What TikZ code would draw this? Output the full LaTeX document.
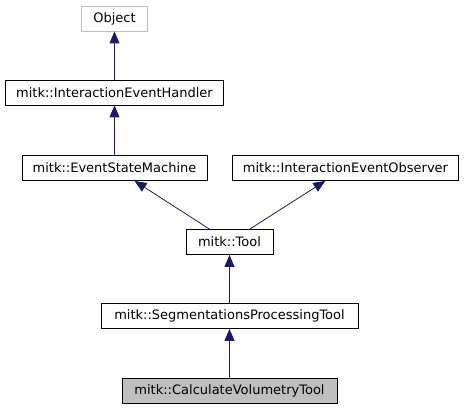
\documentclass[tikz,border=0pt]{standalone}
\usepackage{fontspec}
\setmainfont{DejaVu Sans}
\usepackage{tikz}
\usetikzlibrary{arrows.meta}
\definecolor{midblue}{rgb}{0.098,0.098,0.439}
\definecolor{grey75}{rgb}{0.75,0.75,0.75}
\tikzset{cls/.style={draw,line width=0.8pt,font=\fontsize{13}{15}\selectfont,minimum height=25,inner sep=0pt}}
\tikzset{inh/.style={draw=midblue,line width=0.8pt,-{Triangle[length=12pt,width=10pt]}}}
\begin{document}
\begin{tikzpicture}[x=1pt,y=-1pt]
        \useasboundingbox (0,0) rectangle (464,411);
        \node [cls,draw=grey75,minimum width=66] (obj) at (114.5,18.5) {Object};
        \node [cls,minimum width=218] (handler) at (114.5,92.5) {mitk::InteractionEventHandler}
          edge [inh] (obj);
        \node [cls,minimum width=185] (esm) at (114.5,168) {mitk::EventStateMachine}
          edge [inh] (handler);
        \node [cls,minimum width=226] (observer) at (345.5,168) {mitk::InteractionEventObserver};
        \node [cls,minimum width=87] (tool) at (229.5,242) {mitk::Tool}
          edge [inh] (esm)
          edge [inh] (observer);
        \node [cls,minimum width=257] (spt) at (229.5,316) {mitk::SegmentationsProcessingTool}
          edge [inh] (tool);
        \node [cls,fill=grey75,minimum width=215] (cvt) at (229.5,391) {mitk::CalculateVolumetryTool}
          edge [inh] (spt);
      \end{tikzpicture}
\end{document}
